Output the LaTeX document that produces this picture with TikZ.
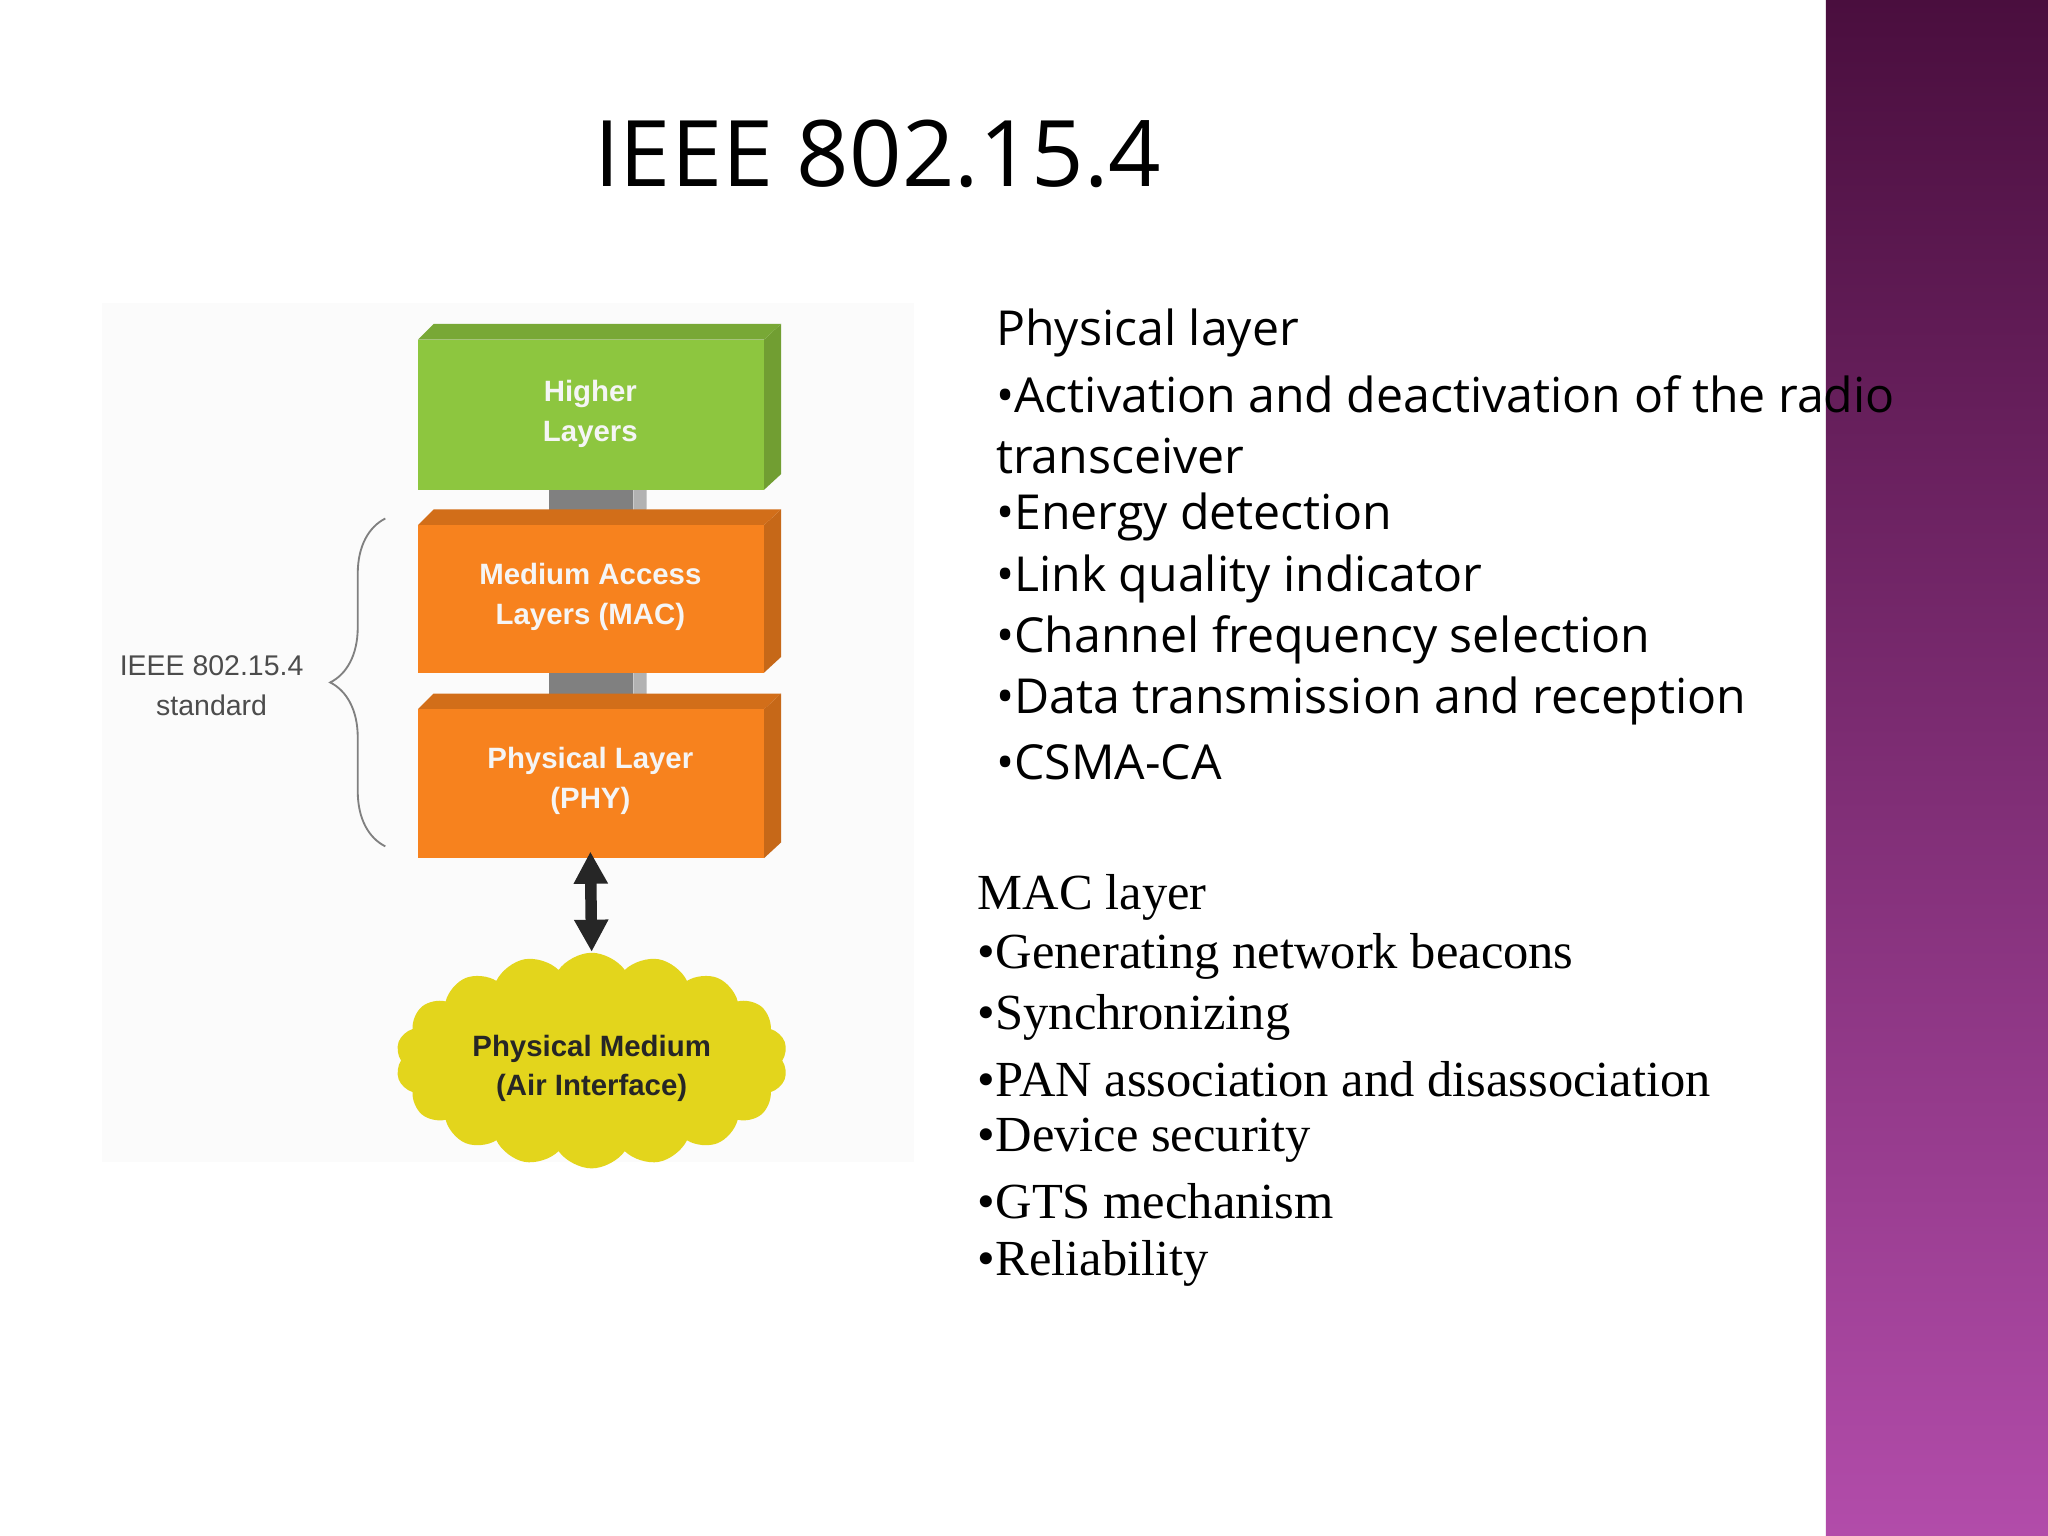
\documentclass[tikz,border=0pt]{standalone}
\usepackage{fontspec}
\setmainfont{Liberation Serif}
\setsansfont{Open Sans}
\newfontfamily\arialb{Liberation Sans}
\usetikzlibrary{shapes.symbols,decorations.pathreplacing,arrows.meta}
\definecolor{grn}{HTML}{8DC63F}
\definecolor{org}{HTML}{F7821E}
\definecolor{ylw}{HTML}{E3D51C}
\tikzset{lbl/.style={font=\arialb\bfseries\fontsize{6.4}{8.6}\selectfont,text=white!92!gray,align=center},
 rt/.style={anchor=west,inner sep=0,font=\sffamily\fontsize{10.5}{13}\selectfont},
 rs/.style={anchor=west,inner sep=0,font=\rmfamily\fontsize{11}{13}\selectfont}}
\newcommand{\layerbox}[5]{% x1 y1 x2 y2 colour
 \fill[#5!80!black] (#3,#2) -- (#3+13,#2-12) -- (#3+13,#4-12) -- (#3,#4) -- cycle;
 \fill[#5!85!black] (#1,#2) -- (#1+12,#2-12) -- (#3+13,#2-12) -- (#3,#2) -- cycle;
 \fill[#5] (#1,#2) rectangle (#3,#4);}
\begin{document}
\begin{tikzpicture}[x=0.01cm,y=-0.01cm]
\useasboundingbox (0,0) rectangle (1568,1176);
\fill[white] (0,0) rectangle (1568,1176);
\fill[gray!3] (78,232) rectangle (700,890);
\shade[top color={rgb,255:red,74;green,14;blue,62},bottom color={rgb,255:red,178;green,76;blue,170}] (1398,0) rectangle (1568,1176);
\node (title) at (672,118) {\sffamily\fontsize{20}{24}\selectfont IEEE 802.15.4};
% connectors
\fill[gray] (420,372) rectangle (485,400); \fill[gray!60] (485,372) -- (495,372)--(495,390)--(485,400)--cycle;
\fill[gray] (420,515) rectangle (485,542); \fill[gray!60] (485,515) -- (495,515)--(495,532)--(485,542)--cycle;
\layerbox{320}{260}{585}{375}{grn}
\layerbox{320}{402}{585}{515}{org}
\layerbox{320}{543}{585}{657}{org}
\node[lbl] (hl) at (452,317) {Higher\\Layers};
\node[lbl] (mac) at (452,457) {Medium Access\\Layers (MAC)};
\node[lbl] (phy) at (452,598) {Physical Layer\\(PHY)};
\draw[gray,decorate,decoration={brace,amplitude=12pt}] (295,648) -- (295,397);
\node[font=\arialb\fontsize{6.2}{8.6}\selectfont,text=gray!60!black,align=center] (std) at (162,525) {IEEE 802.15.4\\standard};
\node[cloud,cloud puffs=18,cloud puff arc=110,aspect=1.9,fill=ylw,minimum width=3.0cm,minimum height=1.65cm,inner sep=0] (cloud) at (453,812) {};
\node[lbl,text=black!85] at (453,818) {Physical Medium\\(Air Interface)};
\draw[{Triangle[width=7pt,length=7pt]}-{Triangle[width=7pt,length=7pt]},line width=2.5pt,black!85] (phy.south |- 0,652) -- (cloud.north);
% right text
\node[rt] (p0) at (762,255) {Physical layer};
\node[rt] at (762,302) {•Activation and deactivation of the radio};
\node[rt] at (762,349) {transceiver};
\node[rt] at (762,396) {•Energy detection};
\node[rt] at (762,443) {•Link quality indicator};
\node[rt] at (762,490) {•Channel frequency selection};
\node[rt] at (762,537) {•Data transmission and reception};
\node[rt] at (762,584) {•CSMA-CA};
\node[rs] (m0) at (748,687) {MAC layer};
\node[rs] at (748,732) {•Generating network beacons};
\node[rs] at (748,779) {•Synchronizing};
\node[rs] at (748,826) {•PAN association and disassociation};
\node[rs] at (748,873) {•Device security};
\node[rs] at (748,920) {•GTS mechanism};
\node[rs] at (748,967) {•Reliability};
\end{tikzpicture}
\end{document}
